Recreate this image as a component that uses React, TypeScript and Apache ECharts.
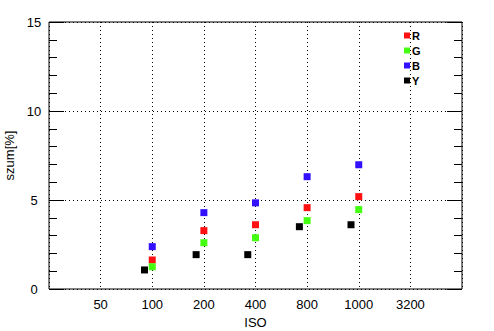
import React, { useEffect, useRef } from "react";
import * as echarts from "echarts";

const isoLabels = ["50", "100", "200", "400", "800", "1000", "3200"];
// ISO category positions (1-based index into isoLabels) of the measured points
const rgbPos = [2, 3, 4, 5, 6];
const yOffset = -0.15; // Y series drawn slightly left of the category
const rValues = [1.63, 3.28, 3.61, 4.57, 5.19];
const gValues = [1.25, 2.6, 2.88, 3.84, 4.46];
const bValues = [2.38, 4.29, 4.84, 6.31, 6.98];
const yValues = [1.07, 1.93, 1.93, 3.5, 3.61];

const seriesNames = ["R", "G", "B", "Y"];
const seriesColors = ["#ff1111", "#44ff11", "#3311ff", "#000000"];

export default function App() {
  const ref = useRef<HTMLDivElement>(null);
  useEffect(() => {
    if (!ref.current) return;
    const chart = echarts.init(ref.current, null, { renderer: "svg" });
    const font = "Liberation Sans, Arial, sans-serif";
    const dotted = { color: "#000", width: 1, type: [1, 3] as number[] };
    const mk = (name: string, vals: number[], off: number, color: string) => ({
      name,
      type: "scatter",
      symbol: "rect",
      symbolSize: 7,
      itemStyle: { color, opacity: 1 },
      data: vals.map((v, i) => [rgbPos[i] + off, v]),
      z: 5,
    });
    chart.setOption({
      animation: false,
      backgroundColor: "#fff",
      textStyle: { fontFamily: font },
      grid: {
        left: 49,
        right: 32,
        top: 22,
        bottom: 42,
        outerBoundsMode: "none",
        containLabel: false,
        show: true,
        borderColor: "#000",
        borderWidth: 1,
        backgroundColor: "transparent",
        z: 10,
      },
      legend: {
        data: seriesNames,
        orient: "vertical",
        left: 404,
        top: 30,
        icon: "rect",
        itemWidth: 6,
        itemHeight: 6,
        itemGap: 4,
        padding: 0,
        itemStyle: { opacity: 1 },
        textStyle: {
          fontFamily: font,
          fontSize: 11,
          fontWeight: "bold",
          color: "#000",
          padding: [0, 0, 0, -3],
        },
      },
      xAxis: {
        type: "value",
        min: 0,
        max: 8,
        interval: 1,
        name: "ISO",
        nameLocation: "middle",
        nameGap: 18,
        nameTextStyle: { fontFamily: font, fontSize: 13, color: "#000" },
        axisLine: { show: false },
        axisTick: { show: false },
        axisLabel: {
          fontFamily: font,
          fontSize: 13,
          color: "#000",
          margin: 9,
          showMinLabel: false,
          showMaxLabel: false,
          formatter: (v: number) =>
            v >= 1 && v <= isoLabels.length ? isoLabels[v - 1] : "",
        },
        splitLine: { show: true, lineStyle: dotted },
      },
      yAxis: [
        {
          type: "value",
          min: 0,
          max: 15,
          interval: 5,
          name: "szum[%]",
          nameLocation: "middle",
          nameGap: 32,
          nameTextStyle: { fontFamily: font, fontSize: 13, color: "#000" },
          axisLine: { show: false },
          axisTick: { show: true, inside: true, length: 15, lineStyle: { color: "#000" } },
          minorTick: { show: true, splitNumber: 5, length: 8, lineStyle: { color: "#000" } },
          axisLabel: {
            fontFamily: font,
            fontSize: 13,
            color: "#000",
            margin: 15,
            align: "center",
          },
          splitLine: { show: true, lineStyle: dotted },
        },
        {
          type: "value",
          min: 0,
          max: 15,
          interval: 5,
          position: "right",
          axisLine: { show: false },
          axisTick: { show: true, inside: true, length: 15, lineStyle: { color: "#000" } },
          minorTick: { show: true, splitNumber: 5, length: 8, lineStyle: { color: "#000" } },
          axisLabel: { show: false },
          splitLine: { show: false },
        },
      ],
      series: [
        mk("R", rValues, 0, seriesColors[0]),
        mk("G", gValues, 0, seriesColors[1]),
        mk("B", bValues, 0, seriesColors[2]),
        mk("Y", yValues, yOffset, seriesColors[3]),
      ],
    });
    return () => chart.dispose();
  }, []);
  return <div ref={ref} style={{ width: 494, height: 331, position: "absolute", left: 0, top: 0 }} />;
}
